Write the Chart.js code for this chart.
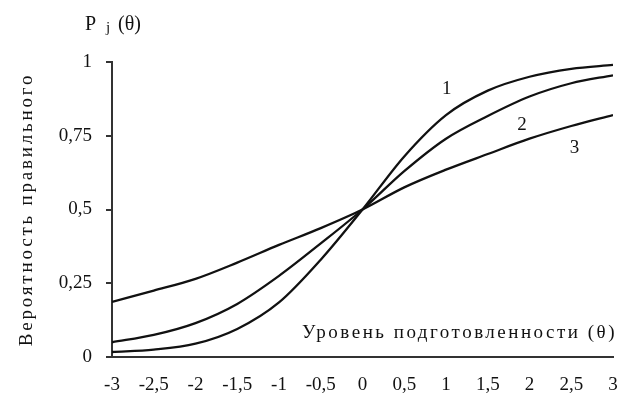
<!DOCTYPE html>
<html>
<head>
<meta charset="utf-8">
<script src="https://cdn.jsdelivr.net/npm/chart.js@4"></script>
<style>
  html, body { margin: 0; padding: 0; background: #fff; }
  #wrap { width: 622px; height: 406px; }
</style>
</head>
<body>
<div id="wrap"><canvas id="c" width="622" height="406"></canvas></div>
<script>
// уровень подготовленности
const theta = [-3, -2.5, -2, -1.5, -1, -0.5, 0, 0.5, 1, 1.5, 2, 2.5, 3];
// вероятность правильного ответа
const curve1 = [0.017, 0.025, 0.045, 0.095, 0.185, 0.33, 0.5, 0.68, 0.82, 0.903, 0.95, 0.977, 0.99];
const curve2 = [0.05, 0.075, 0.115, 0.18, 0.275, 0.385, 0.5, 0.63, 0.74, 0.817, 0.883, 0.928, 0.955];
const curve3 = [0.187, 0.225, 0.265, 0.32, 0.38, 0.437, 0.5, 0.575, 0.635, 0.688, 0.74, 0.783, 0.82];
const yTicks = [0, 0.25, 0.5, 0.75, 1];
const yTickLabels = ['0', '0,25', '0,5', '0,75', '1'];
const curveNames = ['1', '2', '3'];
const curveLabelAt = [[1.01, 0.89], [1.91, 0.77], [2.54, 0.69]];

const SERIF = '"Liberation Serif", "Times New Roman", serif';
const ink = '#111';

const toPts = (ys) => theta.map((t, i) => ({ x: t, y: ys[i] }));
const fmt = (v) => String(v).replace('.', ',');

// подписи на поле графика
const pluginTexts = {
  id: 'texts',
  afterDraw: (chart) => {
    const { ctx, scales, chartArea } = chart;
    ctx.save();
    ctx.fillStyle = ink;
    ctx.textBaseline = 'alphabetic';

    // P j (θ)
    ctx.textAlign = 'left';
    ctx.font = '20px ' + SERIF;
    ctx.fillText('P', 85, 30);
    ctx.font = '15px ' + SERIF;
    ctx.fillText('j', 106, 32);
    ctx.font = '20px ' + SERIF;
    ctx.fillText('(θ)', 118, 30);

    // Уровень подготовленности (θ)
    ctx.textAlign = 'right';
    ctx.font = '19px ' + SERIF;
    ctx.letterSpacing = '2.5px';
    ctx.fillText('Уровень подготовленности (θ)', 617, 338);

    // подпись оси Y
    ctx.save();
    ctx.translate(32, (chartArea.top + chartArea.bottom) / 2);
    ctx.rotate(-Math.PI / 2);
    ctx.textAlign = 'center';
    ctx.letterSpacing = '2.8px';
    ctx.fillText('Вероятность правильного', 0, 0);
    ctx.restore();

    // номера кривых
    ctx.letterSpacing = '0px';
    ctx.textAlign = 'center';
    ctx.font = '19px ' + SERIF;
    curveNames.forEach((n, i) => {
      const px = scales.x.getPixelForValue(curveLabelAt[i][0]);
      const py = scales.y.getPixelForValue(curveLabelAt[i][1]);
      ctx.fillText(n, px, py);
    });
    ctx.restore();
  }
};

const line = (data) => ({
  data: toPts(data),
  borderColor: ink,
  borderWidth: 2.3,
  pointRadius: 0,
  fill: false,
  cubicInterpolationMode: 'monotone'
});

new Chart(document.getElementById('c'), {
  type: 'line',
  data: {
    datasets: [line(curve1), line(curve2), line(curve3)]
  },
  options: {
    responsive: false,
    animation: false,
    events: [],
    layout: { padding: { top: 62, right: 9, left: 0, bottom: 0 } },
    plugins: {
      legend: { display: false },
      tooltip: { enabled: false }
    },
    scales: {
      x: {
        type: 'linear',
        min: -3,
        max: 3,
        afterFit: (s) => { s.height = 49; s.paddingLeft = 0; s.paddingRight = 0; },
        afterBuildTicks: (s) => { s.ticks = theta.map(v => ({ value: v })); },
        grid: { display: false, drawTicks: false },
        border: { display: true, color: '#333', width: 2 },
        ticks: {
          padding: 17,
          color: ink,
          font: { family: SERIF, size: 19 },
          autoSkip: false,
          maxRotation: 0,
          callback: (v) => fmt(v)
        }
      },
      y: {
        min: 0,
        max: 1,
        afterFit: (s) => { s.width = 112; s.paddingTop = 0; s.paddingBottom = 0; },
        afterBuildTicks: (s) => { s.ticks = yTicks.map(v => ({ value: v })); },
        grid: { drawOnChartArea: false, drawTicks: true, tickLength: 6, color: '#333', lineWidth: 2 },
        border: { display: true, color: '#333', width: 2 },
        ticks: {
          padding: 14,
          color: ink,
          font: { family: SERIF, size: 19 },
          callback: (v) => yTickLabels[yTicks.indexOf(v)] ?? ''
        }
      }
    }
  },
  plugins: [pluginTexts]
});
</script>
</body>
</html>
